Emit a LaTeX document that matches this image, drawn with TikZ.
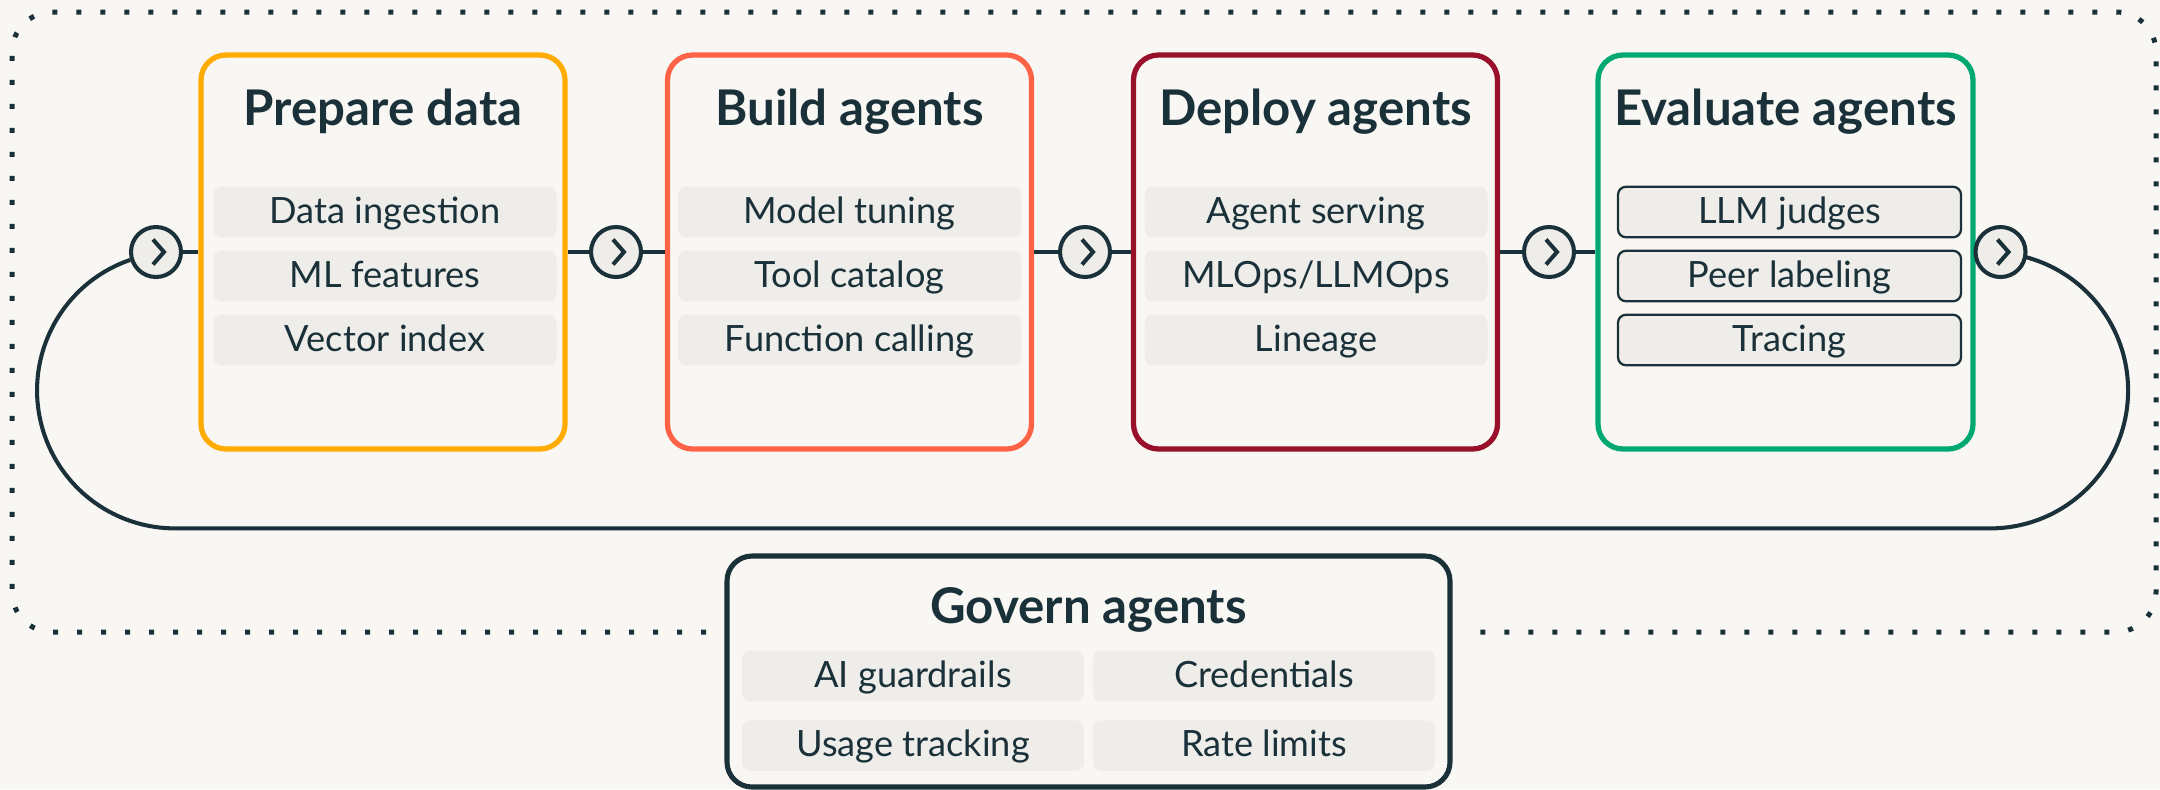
\documentclass[tikz,border=0pt]{standalone}
\usepackage{fontspec}
\setmainfont{Lato}
\usepackage{tikz}

\definecolor{navy}{HTML}{1B3139}
\definecolor{oat}{HTML}{F9F7F4}
\definecolor{pillgray}{HTML}{EEEDE9}
\definecolor{prepcol}{HTML}{FFAB00}
\definecolor{buildcol}{HTML}{FF6347}
\definecolor{deploycol}{HTML}{98102A}
\definecolor{evalcol}{HTML}{00A972}

\tikzset{
    stage/.style={draw=#1, line width=1.5pt, rounded corners=2.5mm,
        minimum width=36.4mm, minimum height=39.4mm, inner sep=0pt},
    heading/.style={anchor=base, text=navy,
        font=\fontsize{14pt}{16pt}\selectfont\bfseries},
    pill/.style={fill=pillgray, rounded corners=0.8mm, minimum width=34.3mm,
        minimum height=5.05mm, inner sep=0pt, text height=2.5mm, text depth=0.3mm,
        text=navy, font=\fontsize{10.3pt}{12pt}\selectfont},
    framed pill/.style={pill, draw=navy, line width=0.65pt},
    hop/.style={circle, draw=navy, line width=1.15pt, fill=pillgray,
        minimum size=5mm, inner sep=0pt},
    link/.style={draw=navy, line width=1.15pt}
}

\begin{document}
\begin{tikzpicture}[x=0.1mm, y=-0.1mm]
        \useasboundingbox (0, 0) rectangle (2160, 789);
        \fill [oat] (0, 0) rectangle (2160, 789);

        % dotted frame, left open at the bottom for the govern box
        \draw [navy, line width=0.5mm, dash pattern=on 0.5mm off 1.9mm, rounded corners=4mm]
            (706, 632) -- (12, 632) -- (12, 12) -- (2156, 12) -- (2156, 632) -- (1471, 632);

        \node [stage=prepcol] (prep) at (383, 252) {};
        \node [stage=buildcol] (build) at (849.5, 252) {};
        \node [stage=deploycol] (deploy) at (1315.5, 252) {};
        \node [stage=evalcol, minimum width=37.5mm] (eval) at (1785.5, 252) {};

        \node [heading] (prep-t) at (383, 125) {Prepare data};
        \node [heading] (build-t) at (849.5, 125) {Build agents};
        \node [heading] (deploy-t) at (1315.5, 125) {Deploy agents};
        \node [heading] (eval-t) at (1785.5, 125) {Evaluate agents};

        \node [pill] (ingest) at (385, 212) {Data ingestion};
        \node [pill] (features) at (385, 276) {ML features};
        \node [pill] (vector) at (385, 340) {Vector index};
        \node [pill] (tuning) at (849.5, 212) {Model tuning};
        \node [pill] (catalog) at (849.5, 276) {Tool catalog};
        \node [pill] (calling) at (849.5, 340) {Function calling};
        \node [pill] (serving) at (1316, 212) {Agent serving};
        \node [pill] (mlops) at (1316, 276) {MLOps/LLMOps};
        \node [pill] (lineage) at (1316, 340) {Lineage};
        \node [framed pill] (judges) at (1789.5, 212) {LLM judges};
        \node [framed pill] (peers) at (1789.5, 276) {Peer labeling};
        \node [framed pill] (tracing) at (1789.5, 340) {Tracing};

        \node [hop] (hop1) at (156, 252) {};
        \node [hop] (hop2) at (616, 252) {};
        \node [hop] (hop3) at (1085, 252) {};
        \node [hop] (hop4) at (1549, 252) {};
        \node [hop] (hop5) at (2000.5, 252) {};

        \draw [link] (hop1) -- (prep);
        \draw [link] (prep) -- (hop2);
        \draw [link] (hop2) -- (build);
        \draw [link] (build) -- (hop3);
        \draw [link] (hop3) -- (deploy);
        \draw [link] (deploy) -- (hop4);
        \draw [link] (hop4) -- (eval);

        % feedback loop from the last hop back to the first
        \draw [link] (hop1.197) arc [start angle=251, end angle=90, radius=138]
            -- ++(1815, 0) arc [start angle=90, end angle=-76, radius=138];

        \foreach \h in {hop1, hop2, hop3, hop4, hop5}
            \draw [navy, line width=1.15pt] ([xshift=-0.3mm, yshift=1.25mm]\h.center)
                -- ++(1.1mm, -1.25mm) -- ++(-1.1mm, -1.25mm);

        \node [draw=navy, line width=1.45pt, rounded corners=2.5mm, minimum width=72.3mm,
            minimum height=23.1mm, inner sep=0pt] (govern) at (1088.5, 671.5) {};
        \node [heading] (govern-t) at (1088.5, 623) {Govern agents};
        \node [pill, minimum width=34.2mm] (guard) at (913, 676) {AI guardrails};
        \node [pill, minimum width=34.2mm] (creds) at (1264, 676) {Credentials};
        \node [pill, minimum width=34.2mm] (usage) at (913, 745.5) {Usage tracking};
        \node [pill, minimum width=34.2mm] (rate) at (1264, 745.5) {Rate limits};
    \end{tikzpicture}
\end{document}
